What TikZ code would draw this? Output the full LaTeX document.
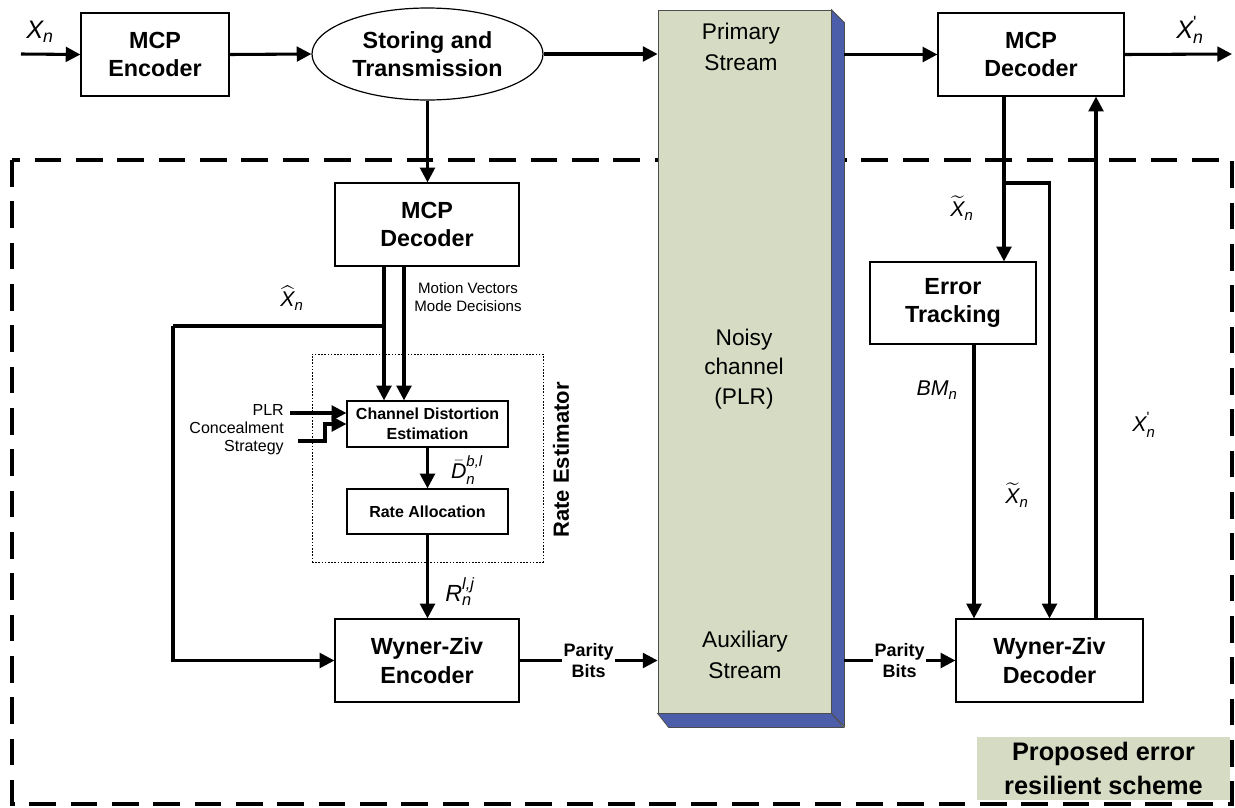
\documentclass[tikz,border=0pt]{standalone}
\usepackage{amsmath}
\usepackage{fontspec}
\setmainfont{Liberation Sans}
\usetikzlibrary{arrows.meta}
\usetikzlibrary{shapes.geometric}
\definecolor{chanfill}{RGB}{214,219,195}
\definecolor{chanblue}{RGB}{76,94,170}

\begin{document}
\begin{tikzpicture}[x=0.75pt,y=0.75pt,yscale=-1,xscale=1,
  blk/.style={draw, line width=0.9pt, fill=white, align=center, inner sep=0pt, font=\bfseries\fontsize{17.5}{21.5}\selectfont},
  sblk/.style={draw, line width=0.9pt, fill=white, align=center, inner sep=0pt, minimum width=120.75pt, font=\bfseries\fontsize{12}{15}\selectfont},
  conn/.style={line width=2.3pt, -{Triangle[length=11pt,width=11pt]}},
  wire/.style={line width=2.3pt},
  lbl/.style={inner sep=0.75pt, font=\fontsize{16}{19}\selectfont},
  txt/.style={inner sep=0.75pt, align=center, font=\fontsize{17}{23}\selectfont},
  pbits/.style={fill=white, inner sep=1pt, align=center, font=\bfseries\fontsize{13.5}{16}\selectfont},
  facestyle/.style={draw=black!70, line width=0.6pt}
]
\useasboundingbox (0,0) rectangle (1235,807);

%Shape: Dashed frame
\draw [line width=2.3pt, dash pattern=on 20pt off 11pt] (12,160) rectangle (1232,804);

%Shape: Channel block
\node [facestyle, fill=chanfill, minimum width=129.75pt, minimum height=527.25pt] (chan) at (744.5,361.5) {};
\filldraw [facestyle, fill=chanblue] (chan.north east) -- ++(13,13) -- ++(0,704) -- (chan.south east) -- cycle;
\filldraw [facestyle, fill=chanblue] (chan.south west) -- ++(11,14) -- ++(175,0) -- (chan.south east) -- cycle;
\coordinate (chanR) at (844,360);

% Text Node
\node [txt] (prim) at (741,47) {Primary\\Stream};
% Text Node
\node [txt, font=\fontsize{17}{22}\selectfont] (noisy) at (744,369) {Noisy\\channel\\(PLR)};
% Text Node
\node [txt] (aux) at (745,655) {Auxiliary\\Stream};

%Shape: Boxes
\node [blk, minimum width=111pt, minimum height=62.25pt] (enc) at (155,54.5) {MCP\\Encoder};
\node [blk, ellipse, minimum width=173.25pt, minimum height=69pt] (store) at (427.5,54) {Storing and\\Transmission};
\node [blk, minimum width=139.5pt, minimum height=62.25pt] (dec) at (1031,54.5) {MCP\\Decoder};
\node [blk, minimum width=138pt, minimum height=62.25pt] (ldec) at (427,224.5) {MCP\\Decoder};
\node [draw, line width=0.7pt, dash pattern=on 1.2pt off 1.2pt, minimum width=173.25pt, minimum height=156pt] (rest) at (427.5,458) {};
\node [sblk, minimum height=34.5pt] (cde) at (427.5,424) {Channel Distortion\\Estimation};
\node [sblk, minimum height=33.75pt] (ralloc) at (427.5,511.5) {Rate Allocation};
\node [blk, minimum width=138pt, minimum height=62.25pt] (wzenc) at (427,660.5) {Wyner-Ziv\\Encoder};
\node [blk, minimum width=124.5pt, minimum height=61.5pt] (errtrk) at (953,303) {Error\\Tracking};
\node [blk, minimum width=140.25pt, minimum height=62.25pt] (wzdec) at (1049.5,660.5) {Wyner-Ziv\\Decoder};
\node [fill=chanfill, align=center, inner sep=0pt, minimum width=189.75pt, minimum height=47.25pt, font=\bfseries\fontsize{19}{25}\selectfont] (prop) at (1103.5,768.5) {Proposed error\\resilient scheme};

% Text Node
\node [rotate=90, inner sep=0pt, font=\bfseries\fontsize{16.5}{20}\selectfont] (restlbl) at (561,460) {Rate Estimator};

%Straight Lines: top chain
\coordinate (in) at (21,54);
\coordinate (out) at (1232,54);
\draw [conn] (in) -- (enc.west);
\draw [conn] (enc.east) -- (store.west);
\draw [conn] (store.east) -- (store.east -| chan.west);
\draw [conn] (dec.west -| chanR) -- (dec.west);
\draw [conn] (dec.east) -- (out);
\draw [conn] (store.south) -- (store.south |- ldec.north);

%Straight Lines: encoder side
\coordinate (xh) at (384,326);
\coordinate (mv) at (404,300);
\coordinate (lft) at (173,500);
\draw [conn] (ldec.south -| xh) -- (cde.north -| xh);
\draw [conn] (ldec.south -| mv) -- (cde.north -| mv);
\draw [wire] (xh) -- (xh -| lft);
\draw [conn] (xh -| lft) |- (wzenc.west);
\draw [conn] (cde.south) -- (cde.south |- ralloc.north);
\draw [conn] (ralloc.south) -- (ralloc.south |- wzenc.north);
\draw [conn] (wzenc.east) -- node [pbits] (pb1) {Parity\\Bits} (wzenc.east -| chan.west);

%Straight Lines: PLR inputs
\coordinate (plrin) at (290,413);
\coordinate (concin) at (298,441);
\draw [conn] (plrin) -- (plrin -| cde.west);
\draw [conn] (concin) -- ++(27,0) |- (cde.west);
% Text Node
\node [anchor=east, align=right, inner sep=0pt, font=\fontsize{12}{13.5}\selectfont] (plr) at (284,430) {PLR\\Concealment\\Strategy};

%Straight Lines: decoder side
\coordinate (tap) at (1004,183);
\coordinate (bm) at (974,480);
\coordinate (fb) at (1096,480);
\draw [conn] (dec.south -| tap) -- (errtrk.north -| tap);
\draw [conn] (tap) -| (wzdec.north);
\draw [conn] (errtrk.south -| bm) -- (wzdec.north -| bm);
\draw [conn] (wzdec.north -| fb) -- (dec.south -| fb);
\draw [conn] (chanR |- wzdec.west) -- node [pbits] (pb2) {Parity\\Bits} (wzdec.west);

% Text Node
\node [lbl, font=\fontsize{19}{22}\selectfont] (xin) at (40,32) {$\textit{X}_{\textit{n}}$};
% Text Node
\node [lbl, font=\fontsize{19}{22}\selectfont] (xout) at (1190,30) {$\textit{X}^{\textup{\textquotesingle}}_{\textit{n}}$};
% Text Node
\node [lbl] (xhat) at (292,298) {$\widehat{\textit{X}}_{\textit{n}}$};
% Text Node
\node [align=center, inner sep=0pt, font=\fontsize{11.3}{14}\selectfont] (mvlbl) at (468,297) {Motion Vectors\\Mode Decisions};
% Text Node
\node [lbl] (dbar) at (467,470) {$\bar{\textit{D}}^{\textit{b,l}}_{\textit{n}}$};
% Text Node
\node [lbl, font=\fontsize{17.5}{20}\selectfont] (rlbl) at (460,592) {$\textit{R}^{\textit{l,j}}_{\textit{n}}$};
% Text Node
\node [lbl] (xt1) at (962,208) {$\widetilde{\textit{X}}_{\textit{n}}$};
% Text Node
\node [lbl] (bmlbl) at (937,390) {$\textit{BM}_{\textit{n}}$};
% Text Node
\node [lbl] (xt2) at (1017,495) {$\widetilde{\textit{X}}_{\textit{n}}$};
% Text Node
\node [lbl] (xfb) at (1144,425) {$\textit{X}^{\textup{\textquotesingle}}_{\textit{n}}$};

\end{tikzpicture}
\end{document}
